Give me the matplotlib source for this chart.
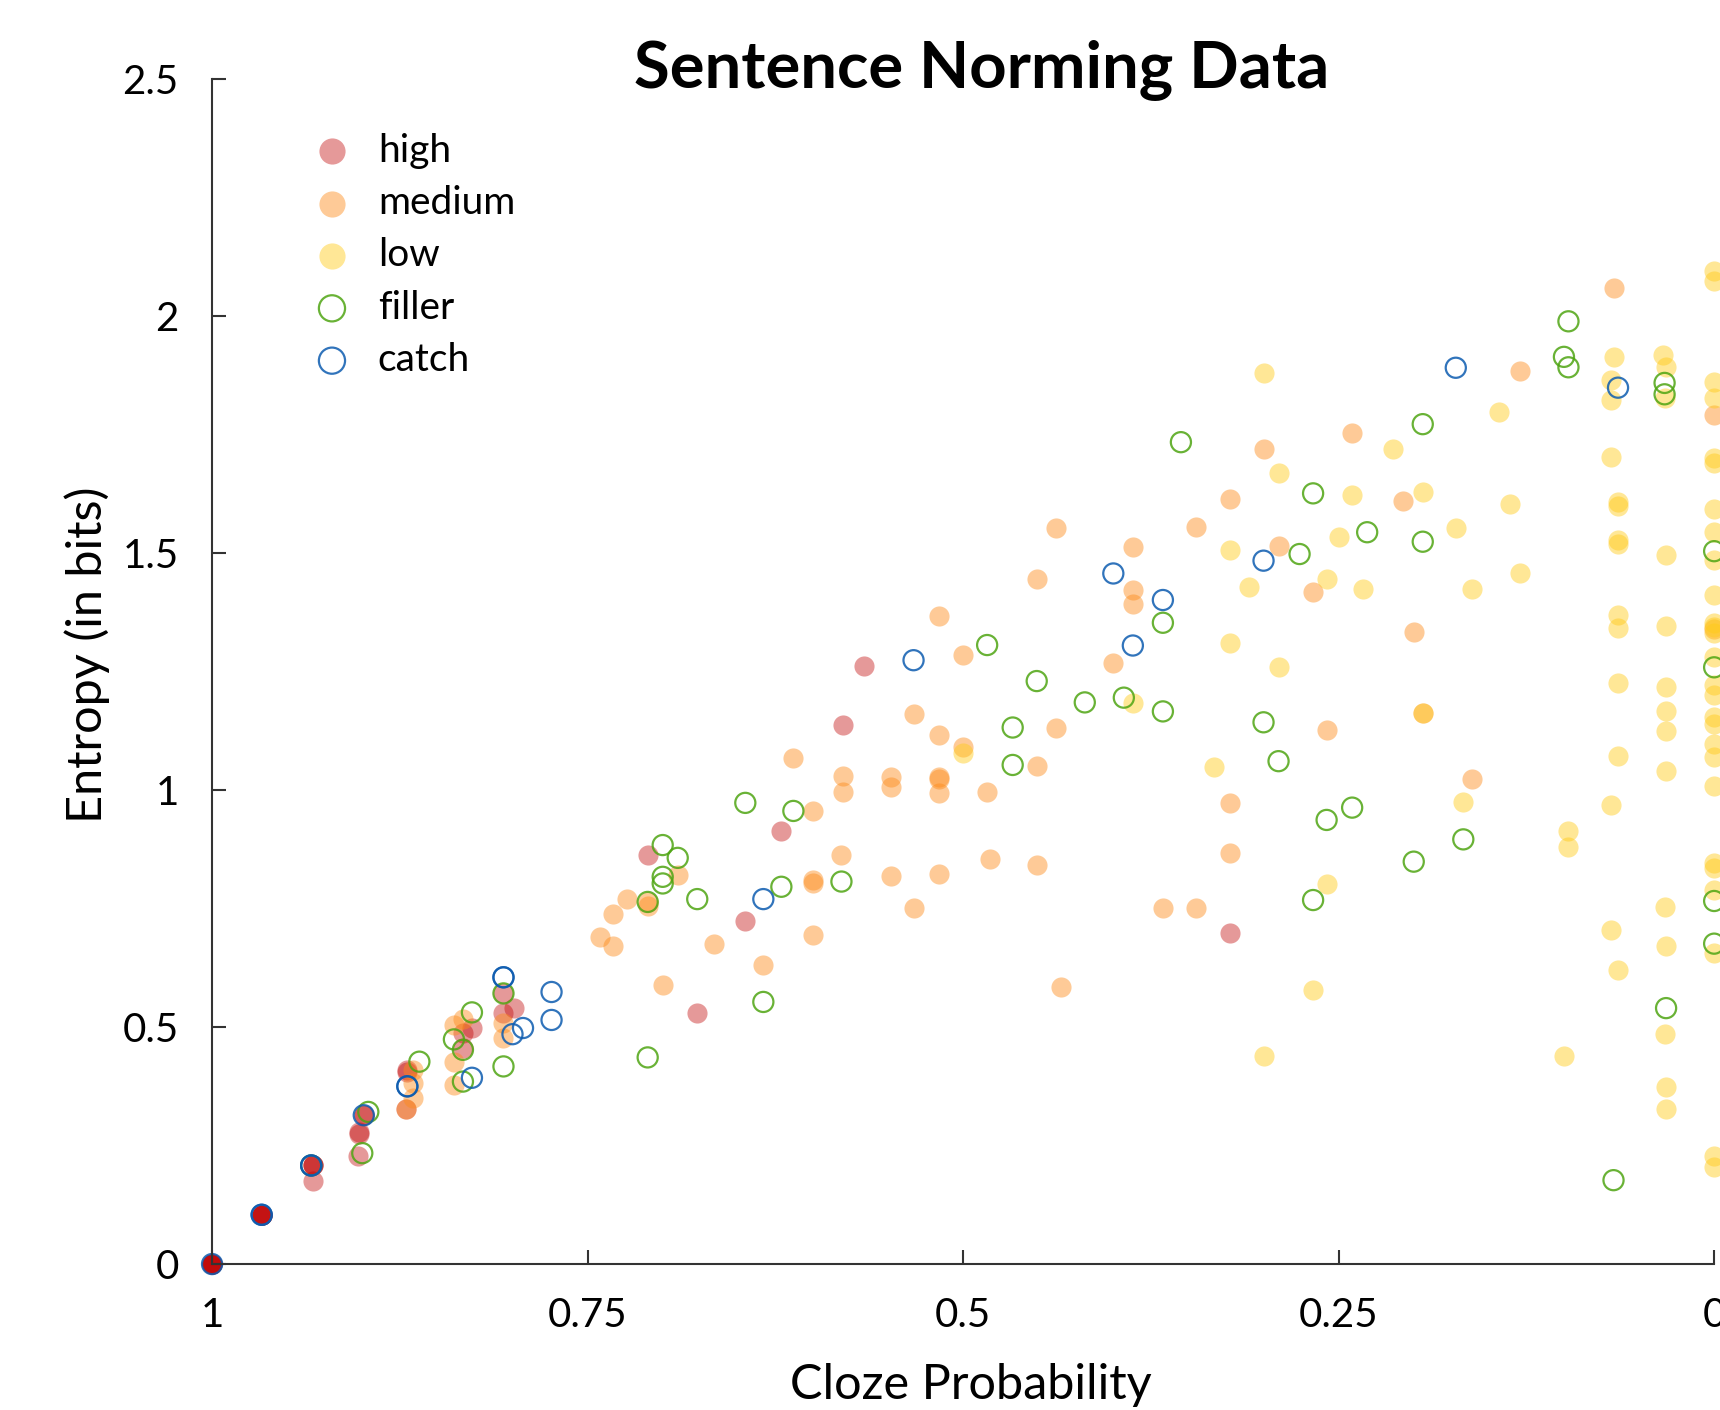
import matplotlib
matplotlib.use('Agg')
import matplotlib.pyplot as plt

plt.rcParams['font.family'] = ['Lato', 'DejaVu Sans']

# cloze probability / entropy pairs per sentence condition
high_cloze = [1.0, 1.0, 1.0, 1.0, 1.0, 1.0,
              0.967, 0.967, 0.967, 0.967, 0.967,
              0.933, 0.933, 0.933, 0.933,
              0.899, 0.899, 0.902, 0.902, 0.903,
              0.870, 0.870, 0.871, 0.833, 0.827,
              0.833, 0.806, 0.806, 0.799, 0.710,
              0.677, 0.621, 0.645, 0.566, 0.580,
              0.322]
high_entropy = [0.0, 0.0, 0.0, 0.0, 0.0, 0.0,
                0.104, 0.104, 0.104, 0.104, 0.104,
                0.208, 0.208, 0.208, 0.175,
                0.314, 0.314, 0.274, 0.279, 0.229,
                0.406, 0.410, 0.328, 0.487, 0.498,
                0.455, 0.571, 0.529, 0.540, 0.862,
                0.529, 0.914, 0.723, 1.262, 1.137,
                0.698]

medium_cloze = [0.871, 0.866, 0.866, 0.866, 0.839, 0.833, 0.839, 0.839,
                0.806, 0.806, 0.742, 0.733, 0.733, 0.724, 0.690, 0.710,
                0.710, 0.666, 0.700, 0.600, 0.600, 0.600, 0.581, 0.600,
                0.633, 0.580, 0.580, 0.548, 0.548, 0.548, 0.533, 0.516,
                0.516, 0.516, 0.516, 0.484, 0.482, 0.451, 0.435, 0.438,
                0.451, 0.516, 0.500, 0.533, 0.516, 0.500, 0.451, 0.438,
                0.613, 0.322, 0.322, 0.367, 0.345, 0.161, 0.241, 0.300,
                0.322, 0.207, 0.345, 0.387, 0.290, 0.387, 0.387, 0.267,
                0.200, 0.400, 0.258, 0.194, 0.067, 0.129, 0.000, 0.000]
medium_entropy = [0.328, 0.383, 0.350, 0.410, 0.504, 0.518, 0.427, 0.378,
                  0.508, 0.477, 0.690, 0.739, 0.672, 0.770, 0.821, 0.764,
                  0.755, 0.675, 0.589, 0.956, 0.810, 0.803, 0.863, 0.694,
                  0.632, 1.029, 0.997, 1.028, 1.007, 0.819, 0.752, 1.028,
                  1.024, 0.993, 0.823, 0.995, 0.854, 0.842, 0.585, 1.552,
                  1.445, 1.368, 1.285, 1.160, 1.116, 1.090, 1.051, 1.132,
                  1.067, 0.972, 0.867, 0.752, 0.752, 1.024, 1.754, 1.719,
                  1.614, 1.610, 1.554, 1.513, 1.516, 1.423, 1.392, 1.417,
                  1.333, 1.269, 1.127, 1.163, 2.060, 1.884, 1.791, 1.340]

low_cloze = [0.500, 0.258, 0.267, 0.300, 0.167,
             0.300, 0.143, 0.214, 0.290, 0.241,
             0.194, 0.136, 0.322, 0.250, 0.172,
             0.310, 0.258, 0.234, 0.161, 0.322,
             0.290, 0.387, 0.194, 0.333, 0.129,
             0.067, 0.069, 0.069, 0.034, 0.032,
             0.033, 0.069, 0.064, 0.064, 0.064,
             0.064, 0.032, 0.064, 0.064, 0.032,
             0.064, 0.032, 0.032, 0.032, 0.032,
             0.064, 0.069, 0.097, 0.097, 0.033,
             0.069, 0.032, 0.064, 0.033, 0.100,
             0.032, 0.032,
             0.0, 0.0, 0.0, 0.0, 0.0,
             0.0, 0.0, 0.0, 0.0, 0.0,
             0.0, 0.0, 0.0, 0.0, 0.0,
             0.0, 0.0, 0.0, 0.0, 0.0,
             0.0, 0.0, 0.0, 0.0, 0.0,
             0.0, 0.0]
low_entropy = [1.078, 0.802, 0.578, 0.440, 0.975,
               1.879, 1.797, 1.720, 1.668, 1.622,
               1.628, 1.603, 1.506, 1.533, 1.552,
               1.429, 1.445, 1.424, 1.424, 1.311,
               1.260, 1.183, 1.163, 1.049, 1.457,
               1.914, 1.865, 1.823, 1.918, 1.893,
               1.827, 1.703, 1.607, 1.600, 1.527,
               1.520, 1.496, 1.369, 1.341, 1.347,
               1.225, 1.217, 1.166, 1.125, 1.040,
               1.071, 0.968, 0.913, 0.879, 0.754,
               0.705, 0.672, 0.620, 0.485, 0.439,
               0.373, 0.328,
               2.096, 2.075, 1.860, 1.827, 1.700,
               1.690, 1.594, 1.545, 1.485, 1.411,
               1.352, 1.345, 1.331, 1.281, 1.221,
               1.200, 1.154, 1.140, 1.097, 1.069,
               1.008, 0.847, 0.835, 0.790, 0.657,
               0.229, 0.205]

filler_cloze = [0.934, 0.896, 0.900, 0.862, 0.827, 0.839, 0.833, 0.833,
                0.806, 0.806, 0.710, 0.700, 0.690, 0.700, 0.700, 0.710,
                0.677, 0.645, 0.613, 0.621, 0.581, 0.633, 0.484, 0.451,
                0.467, 0.467, 0.258, 0.241, 0.267, 0.200, 0.167, 0.194,
                0.355, 0.267, 0.276, 0.231, 0.194, 0.367, 0.419, 0.393,
                0.367, 0.300, 0.290, 0.097, 0.100, 0.097, 0.033, 0.033,
                0.000, 0.000, 0.000, 0.000, 0.032, 0.067]
filler_entropy = [0.208, 0.321, 0.234, 0.427, 0.531, 0.474, 0.452, 0.385,
                  0.571, 0.417, 0.436, 0.884, 0.857, 0.817, 0.803, 0.764,
                  0.770, 0.973, 0.956, 0.796, 0.807, 0.553, 1.306, 1.230,
                  1.132, 1.053, 0.937, 0.963, 0.768, 0.849, 0.896, 1.772,
                  1.734, 1.626, 1.498, 1.544, 1.524, 1.353, 1.185, 1.195,
                  1.166, 1.143, 1.061, 1.989, 1.914, 1.892, 1.859, 1.835,
                  1.504, 1.259, 0.766, 0.676, 0.540, 0.177]

catch_cloze = [1.000, 0.967, 0.967, 0.934, 0.934, 0.899, 0.870, 0.870,
               0.827, 0.806, 0.806, 0.800, 0.793, 0.774, 0.774, 0.633,
               0.533, 0.400, 0.367, 0.387, 0.300, 0.172, 0.064]
catch_entropy = [0.000, 0.104, 0.104, 0.208, 0.208, 0.314, 0.375, 0.375,
                 0.393, 0.605, 0.605, 0.485, 0.498, 0.574, 0.515, 0.770,
                 1.274, 1.457, 1.401, 1.305, 1.484, 1.891, 1.849]

fig = plt.figure(figsize=(17.2, 14.1), dpi=100)
ax = fig.add_axes([0.1233, 0.1035, 0.8733, 0.8404])

ms = 210
ax.scatter(high_cloze, high_entropy, s=ms, color='#c00000', alpha=0.4,
           linewidths=0, label='high', clip_on=False)
ax.scatter(medium_cloze, medium_entropy, s=ms, color='#fd8b1a', alpha=0.45,
           linewidths=0, label='medium', clip_on=False)
ax.scatter(low_cloze, low_entropy, s=ms, color='#ffca16', alpha=0.45,
           linewidths=0, label='low', clip_on=False)
ax.scatter(filler_cloze, filler_entropy, s=ms, facecolors='none',
           edgecolors='#4fa513', alpha=0.85, linewidths=1.6, label='filler',
           clip_on=False)
ax.scatter(catch_cloze, catch_entropy, s=ms, facecolors='none',
           edgecolors='#0d5cb0', alpha=0.85, linewidths=1.6, label='catch',
           clip_on=False)

ax.set_xlim(1, 0)
ax.set_ylim(0, 2.5)
ax.set_xticks([1, 0.75, 0.5, 0.25, 0])
ax.set_xticklabels(['1', '0.75', '0.5', '0.25', '0'])
ax.set_yticks([0, 0.5, 1, 1.5, 2, 2.5])
ax.set_yticklabels(['0', '0.5', '1', '1.5', '2', '2.5'])

for side in ['top', 'right']:
    ax.spines[side].set_visible(False)
for side in ['left', 'bottom']:
    ax.spines[side].set_linewidth(1.5)
    ax.spines[side].set_color('#333333')
ax.tick_params(direction='in', length=10, width=1.5, color='#333333',
               labelsize=29, pad=24)

fig.text(0.571, 0.9376, 'Sentence Norming Data', fontsize=47,
         fontweight='bold', ha='center', va='baseline')
fig.text(0.0505, 0.5355, 'Entropy (in bits)', fontsize=35, rotation=90,
         ha='center', va='center')
fig.text(0.5645, 0.0075, 'Cloze Probability', fontsize=35,
         ha='center', va='baseline')

leg = ax.legend(loc='upper left', bbox_to_anchor=(0.1817, 0.9060),
                bbox_transform=fig.transFigure, frameon=False, fontsize=28,
                markerscale=1.3, scatterpoints=1, handlelength=1.0,
                handletextpad=0.68, labelspacing=0.42, borderpad=0,
                borderaxespad=0)

fig.savefig('out.png', dpi=100)
